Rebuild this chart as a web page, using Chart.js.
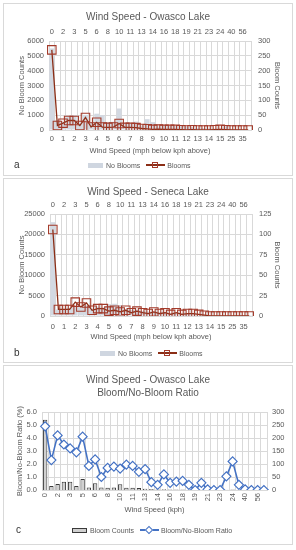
<!DOCTYPE html>
<html>
<head>
<meta charset="utf-8">
<script src="https://cdn.jsdelivr.net/npm/chart.js@4.4.0/dist/chart.umd.min.js"></script>
<style>
  body { margin: 0; width: 296px; height: 550px; background: #fff; position: relative; overflow: hidden;
         font-family: 'Liberation Sans', sans-serif; color: #595959; }
  .panel { position: absolute; left: 3px; width: 288px; border: 1px solid #d9d9d9; }
  canvas { position: absolute; left: 0; }
  .tag { position: absolute; font-size: 10px; color: #333; }
  .legend { position: absolute; height: 10px; display: flex; align-items: center; font-size: 7px; white-space: nowrap; }
  .box { width: 15px; height: 5px; margin-right: 3px; box-sizing: border-box; }
  .ln { position: relative; width: 19px; height: 10px; margin: 0 2px 0 6px; }
  .ln::before { content: ''; position: absolute; left: 0; right: 0; top: 4.4px; height: 1.3px; background: var(--c); }
  .ln i { position: absolute; left: 6px; top: 2px; width: 6px; height: 6px; box-sizing: border-box; border: 1px solid var(--m); }
  .ln i.dia { transform: rotate(45deg); background: #fff; }
</style>
</head>
<body>
<div class="panel" style="top:3px;height:171px"></div>
<div class="panel" style="top:178px;height:183px"></div>
<div class="panel" style="top:365px;height:178px"></div>

<canvas id="owasco" width="296" height="175" style="top:0"></canvas>
<canvas id="seneca" width="296" height="185" style="top:176px"></canvas>
<canvas id="ratio" width="296" height="182" style="top:363px"></canvas>

<div class="tag" style="left:14px;top:159px">a</div>
<div class="legend" style="left:88px;top:160px">
  <span class="box" style="background:#cfd6e0"></span><span>No Blooms</span>
  <span class="ln" style="--c:#8b2e16;--m:#a33a2a"><i></i></span><span>Blooms</span>
</div>

<div class="tag" style="left:14px;top:347px">b</div>
<div class="legend" style="left:100px;top:348px">
  <span class="box" style="background:#cfd6e0"></span><span>No Blooms</span>
  <span class="ln" style="--c:#8b2e16;--m:#a33a2a"><i></i></span><span>Blooms</span>
</div>

<div class="tag" style="left:16px;top:524px">c</div>
<div class="legend" style="left:72px;top:525px">
  <span class="box" style="background:#d0d0d0;border:1px solid #3a3a3a"></span><span>Bloom Counts</span>
  <span class="ln" style="--c:#4472c4;--m:#4472c4"><i class="dia"></i></span><span>Bloom/No-Bloom Ratio</span>
</div>

<script>
// tick labels, one per mph step (kph is the same step converted)
const mphTicks = ['0', '1', '2', '3', '4', '5', '6', '7', '8', '9', '10', '11', '12', '13', '14', '15', '25', '35'];
const kphTicks = ['0', '2', '3', '5', '6', '8', '10', '11', '13', '14', '16', '18', '19', '21', '23', '24', '40', '56'];

// 36 wind speed bins, every other one labelled
const owascoNoBlooms = [5500, 650, 550, 910, 1000, 520, 1020, 540, 1100, 1000, 530, 555, 1450, 460, 490, 570,
                        310, 730, 530, 245, 360, 310, 280, 260, 220, 180, 150, 120, 100, 97, 90, 260, 80, 60, 40, 30];
const owascoBlooms = [270, 15, 23, 32, 32, 15, 42, 10, 26, 10, 9, 10, 22, 9, 9, 8,
                      5, 4, 2, 3, 2, 2, 2, 1, 0, 1, 0, 0, 0, 1, 2, 1, 0, 0, 0, 0];
const senecaNoBlooms = [23000, 1600, 1700, 2000, 2400, 2200, 2600, 1800, 2300, 2100, 2900, 3000, 2700, 1700, 1500, 1500,
                        1200, 1100, 1000, 900, 850, 700, 650, 600, 500, 450, 400, 300, 250, 200, 150, 120, 90, 60, 40, 20];
const senecaBlooms = [106, 8, 8, 8, 17, 11, 16, 7, 9, 9, 6, 7, 5, 7, 4, 6,
                      4, 3, 5, 3, 4, 2, 4, 2, 3, 3, 2, 1, 0, 0, 0, 0, 0, 0, 0, 0];
const owascoRatio = [4.9, 2.3, 4.2, 3.5, 3.2, 2.9, 4.1, 1.85, 2.35, 1.0, 1.7, 1.8, 1.65, 1.95, 1.85, 1.4,
                     1.6, 0.6, 0.4, 1.2, 0.55, 0.65, 0.7, 0.4, 0.0, 0.55, 0.05, 0.0, 0.0, 1.05, 2.2, 0.4, 0.05, 0.0, 0.0, 0.0];

const binCount = owascoBlooms.length;
const binLabels = ticks => Array.from({ length: binCount }, (_, i) => i % 2 === 0 ? ticks[i / 2] : '');

const GRID = '#d9d9d9';
const TEXT = '#595959';
Chart.defaults.font.family = "'Liberation Sans', sans-serif";
Chart.defaults.color = TEXT;
const tickFont = { size: 7.5 };
const axisTitleFont = { size: 7.5 };

function countChart(id, o) {
    return new Chart(document.getElementById(id), {
        data: {
            labels: binLabels(mphTicks),
            datasets: [
                {
                    type: 'line', label: 'Blooms', data: o.blooms, yAxisID: 'y1', order: 0,
                    borderColor: '#8b2e16', borderWidth: 1.3, tension: 0,
                    pointStyle: 'rect', pointRadius: 6, pointBorderWidth: 1.1,
                    pointBorderColor: '#a33a2a', pointBackgroundColor: 'rgba(0,0,0,0)'
                },
                {
                    type: 'bar', label: 'No Blooms', data: o.noBlooms, yAxisID: 'y', order: 1,
                    backgroundColor: '#d3d9e2', categoryPercentage: 0.95, barPercentage: 0.9
                }
            ]
        },
        options: {
            responsive: false, animation: false, devicePixelRatio: 1,
            layout: { padding: { bottom: 19.5 } },
            plugins: {
                legend: { display: false }, tooltip: { enabled: false },
                title: { display: true, text: o.title, color: TEXT, font: { size: 10, weight: 'normal' },
                         padding: { top: o.titleTop, bottom: 3 } }
            },
            scales: {
                x: {
                    type: 'category', position: 'bottom', offset: true,
                    grid: { color: GRID, drawTicks: false, offset: true }, border: { color: GRID },
                    ticks: { autoSkip: false, maxRotation: 0, minRotation: 0, padding: o.labelPad, font: tickFont },
                    title: { display: true, text: 'Wind Speed (mph below kph above)', font: axisTitleFont, padding: 0 },
                    afterFit: s => { s.height = 25.5; }
                },
                x2: {
                    type: 'category', position: 'top', offset: true, labels: binLabels(kphTicks),
                    grid: { display: false, drawTicks: false }, border: { color: GRID },
                    ticks: { autoSkip: false, maxRotation: 0, minRotation: 0, padding: 4.5, font: tickFont },
                    afterFit: s => { s.height = o.topAxis; }
                },
                y: {
                    position: 'left', min: 0, max: o.leftMax,
                    ticks: { stepSize: o.leftStep, padding: 5, font: tickFont, callback: v => String(v) },
                    grid: { color: GRID, drawTicks: false }, border: { display: false },
                    title: { display: true, text: 'No Bloom Counts', font: axisTitleFont, padding: { top: 17.3 } },
                    afterFit: s => { s.width = o.left; }
                },
                y1: {
                    position: 'right', min: 0, max: o.rightMax,
                    ticks: { stepSize: o.rightStep, padding: 7, font: tickFont, callback: v => String(v) },
                    grid: { display: false, drawTicks: false }, border: { display: false },
                    title: { display: true, text: 'Bloom Counts', font: axisTitleFont, padding: { top: 14.6 } },
                    afterFit: s => { s.width = 296 - o.right; }
                }
            }
        }
    });
}

countChart('owasco', {
    title: 'Wind Speed - Owasco Lake', noBlooms: owascoNoBlooms, blooms: owascoBlooms,
    leftMax: 6000, leftStep: 1000, rightMax: 300, rightStep: 50,
    titleTop: 11, topAxis: 15, labelPad: 4.5, left: 49, right: 251
});

countChart('seneca', {
    title: 'Wind Speed - Seneca Lake', noBlooms: senecaNoBlooms, blooms: senecaBlooms,
    leftMax: 25000, leftStep: 5000, rightMax: 125, rightStep: 25,
    titleTop: 10, topAxis: 13, labelPad: 6.5, left: 50, right: 252
});

new Chart(document.getElementById('ratio'), {
    data: {
        labels: binLabels(kphTicks),
        datasets: [
            {
                type: 'line', label: 'Bloom/No-Bloom Ratio', data: owascoRatio, yAxisID: 'y', order: 0,
                borderColor: '#4472c4', borderWidth: 1.6, tension: 0,
                pointStyle: 'rectRot', pointRadius: 4.5, pointBorderWidth: 1.2,
                pointBorderColor: '#4472c4', pointBackgroundColor: '#fff'
            },
            {
                type: 'bar', label: 'Bloom Counts', data: owascoBlooms, yAxisID: 'y1', order: 1,
                backgroundColor: '#d0d0d0', borderColor: '#3a3a3a', borderWidth: 1,
                categoryPercentage: 1, barPercentage: 0.7
            }
        ]
    },
    options: {
        responsive: false, animation: false, devicePixelRatio: 1,
        layout: { padding: { bottom: 30.5 } },
        plugins: {
            legend: { display: false }, tooltip: { enabled: false },
            title: { display: true, text: ['Wind Speed - Owasco Lake', 'Bloom/No-Bloom Ratio'], color: TEXT,
                     font: { size: 10, weight: 'normal', lineHeight: 1.3 }, padding: { top: 10.5, bottom: 12.5 } }
        },
        scales: {
            x: {
                type: 'category', offset: true,
                grid: { color: GRID, drawTicks: false, offset: true }, border: { color: GRID },
                ticks: { autoSkip: false, maxRotation: 90, minRotation: 90, padding: 3, font: tickFont },
                title: { display: true, text: 'Wind Speed (kph)', font: axisTitleFont, padding: 0 },
                afterFit: s => { s.height = 24.5; }
            },
            y: {
                position: 'left', min: 0, max: 6,
                ticks: { stepSize: 1, padding: 5, font: tickFont, callback: v => v.toFixed(1) },
                grid: { color: GRID, drawTicks: false }, border: { display: false },
                title: { display: true, text: 'Bloom/No-Bloom Ratio (%)', font: axisTitleFont, padding: { top: 15.5 } },
                afterFit: s => { s.width = 42; }
            },
            y1: {
                position: 'right', min: 0, max: 300,
                ticks: { stepSize: 50, padding: 5, font: tickFont },
                grid: { display: false, drawTicks: false }, border: { display: false },
                afterFit: s => { s.width = 29; }
            }
        }
    }
});
</script>
</body>
</html>
